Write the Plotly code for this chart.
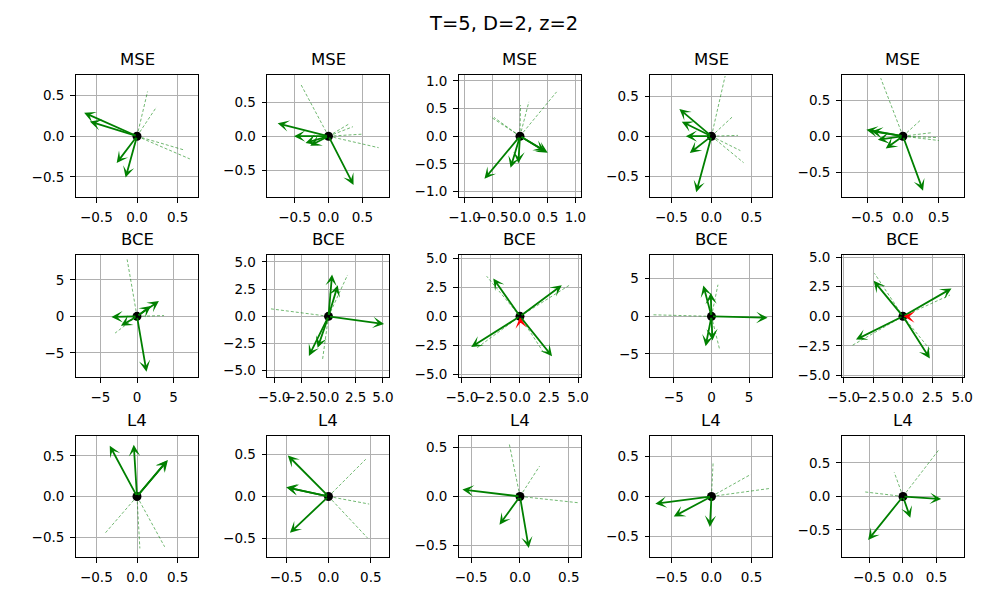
import plotly.graph_objects as go

# ---------------- data ----------------
suptitle = "T=5, D=2, z=2"
row_titles = ["MSE", "BCE", "L4"]

# arrow tips (x, y), all arrows start at the origin
mse_arrows = [
    [(-0.65, 0.29), (-0.58, 0.18), (-0.25, -0.33), (-0.14, -0.51)],
    [(-0.75, 0.19), (-0.51, 0.0), (-0.34, -0.10), (-0.27, -0.14), (0.37, -0.72)],
    [(-0.64, -0.77), (-0.17, -0.57), (-0.03, -0.49), (0.45, -0.27), (0.50, -0.30)],
    [(-0.40, 0.34), (-0.37, 0.18), (-0.32, 0.0), (-0.27, -0.21), (-0.19, -0.70)],
    [(-0.51, 0.09), (-0.44, 0.07), (-0.35, -0.05), (-0.24, -0.17), (0.28, -0.76)],
]
mse_dashed = [
    [(0.13, 0.55), (0.24, 0.36), (0.58, -0.17), (0.65, -0.28)],
    [(-0.41, 0.77), (0.30, 0.18), (0.36, 0.14), (0.50, 0.03), (0.74, -0.17)],
    [(-0.53, 0.35), (-0.47, 0.34), (0.01, 0.56), (0.16, 0.62), (0.66, 0.80)],
    [(0.17, 0.75), (0.27, 0.25), (0.33, 0.01), (0.36, -0.18), (0.40, -0.33)],
    [(-0.31, 0.81), (0.24, 0.22), (0.41, 0.05), (0.49, -0.02), (0.50, -0.06)],
]
bce_arrows = [
    [(-3.5, -0.1), (-2.2, -1.3), (1.9, 1.4), (3.0, 2.1), (1.3, -7.6)],
    [(5.1, -0.7), (0.33, 3.85), (0.85, 2.85), (-1.8, -3.65), (-1.0, -2.9)],
    [(-2.3, 3.27), (3.6, 2.68), (-4.2, -2.65), (2.76, -3.44)],
    [(7.45, -0.2), (-1.08, 4.1), (-0.1, 3.15), (-0.78, -3.97), (0.13, -3.2)],
    [(-2.47, 3.0), (4.1, 2.36), (-3.97, -1.97), (2.27, -3.56)],
]
bce_dashed = [
    [(-1.35, 7.8), (3.7, 0.1), (-3.0, -2.3)],
    [(-5.4, 0.7), (1.75, 3.8), (-0.55, -4.0)],
    [(-2.87, 3.46), (4.25, 2.68), (-3.72, -2.73), (2.05, -3.15)],
    [(-7.7, 0.2), (0.86, 4.2), (1.08, -4.4)],
    [(-2.41, 3.64), (3.97, 1.8), (-4.25, -2.44), (2.38, -2.93)],
]
# small red arrows: (tail, tip) in data units
bce_red = [None, None, ((0.05, -0.55), (0.0, -0.05)), None, ((0.55, -0.03), (0.05, 0.0))]
l4_arrows = [
    [(-0.335, 0.625), (-0.04, 0.635), (0.38, 0.45), (0.37, 0.44)],
    [(-0.48, 0.485), (-0.5, 0.11), (-0.49, 0.105), (-0.455, -0.43)],
    [(-0.59, 0.07), (-0.21, -0.29), (0.09, -0.53)],
    [(-0.7, -0.09), (-0.47, -0.25), (-0.02, -0.38)],
    [(0.57, -0.04), (0.11, -0.32), (-0.52, -0.65)],
]
l4_dashed = [
    [(-0.39, -0.45), (0.035, -0.64), (0.34, -0.62)],
    [(0.44, 0.44), (0.48, -0.09), (0.46, -0.49)],
    [(-0.11, 0.54), (0.2, 0.31), (0.6, -0.065)],
    [(0.02, 0.42), (0.49, 0.275), (0.73, 0.1)],
    [(0.53, 0.69), (-0.13, 0.36), (-0.59, 0.07)],
]
# symmetric axis limits per panel
mse_limits = [0.75, 0.9, 1.1, 0.76, 0.85]
bce_limits = [8.35, 5.6, 5.25, 8.1, 5.15]
l4_limits = [0.75, 0.72, 0.625, 0.76, 0.91]
# tick values per panel
mse_ticks = [[-0.5, 0, 0.5], [-0.5, 0, 0.5], [-1.0, -0.5, 0, 0.5, 1.0], [-0.5, 0, 0.5], [-0.5, 0, 0.5]]
bce_ticks = [[-5, 0, 5], [-5, -2.5, 0, 2.5, 5], [-5, -2.5, 0, 2.5, 5], [-5, 0, 5], [-5, -2.5, 0, 2.5, 5]]
l4_ticks = [[-0.5, 0, 0.5]] * 5
bce_tick_decimals = [0, 1, 1, 0, 1]

rows = [
    (mse_arrows, mse_dashed, mse_limits, mse_ticks, [1] * 5, [None] * 5),
    (bce_arrows, bce_dashed, bce_limits, bce_ticks, bce_tick_decimals, bce_red),
    (l4_arrows, l4_dashed, l4_limits, l4_ticks, [1] * 5, [None] * 5),
]

# ---------------- layout geometry (pixels) ----------------
W, H = 1000, 600
BOX_W, BOX_H = 125.0, 124.3
COL_X0 = [62.5 + 196.2 * i for i in range(5)]
ROW_Y0 = [70.7, 254.5, 438.3]

GREEN = "#008000"
FONT = "DejaVu Sans"

fig = go.Figure()
annotations = []
layout = {}


def fmt(v, dec):
    s = f"{v:.{dec}f}"
    return s.replace("-", "\u2212")


k = 0
for r, (arrows, dashed, limits, ticks, decs, reds) in enumerate(rows):
    for c in range(5):
        k += 1
        xa = "x" if k == 1 else f"x{k}"
        ya = "y" if k == 1 else f"y{k}"
        xkey = "xaxis" if k == 1 else f"xaxis{k}"
        ykey = "yaxis" if k == 1 else f"yaxis{k}"
        L = limits[c]
        tv = ticks[c]
        tt = [fmt(v, decs[c]) for v in tv]
        x0 = COL_X0[c]
        y0 = ROW_Y0[r]
        common = dict(
            range=[-L, L], tickvals=tv, ticktext=tt, tickangle=0,
            showgrid=True, gridcolor="#b0b0b0", gridwidth=1,
            zeroline=False, showline=True, linecolor="black", linewidth=1,
            mirror=True, ticks="outside", ticklen=4.9, tickwidth=1,
            ticklabelstandoff=3,
            tickcolor="black", tickfont=dict(family=FONT, size=13.5, color="black"),
            fixedrange=True,
        )
        layout[xkey] = dict(domain=[x0 / W, (x0 + BOX_W) / W], anchor=ya, **common)
        layout[ykey] = dict(domain=[1 - (y0 + BOX_H) / H, 1 - y0 / H], anchor=xa, **common)

        # dashed reference lines
        dx, dy = [], []
        for (px, py) in dashed[c]:
            dx += [0, px, None]
            dy += [0, py, None]
        fig.add_trace(go.Scatter(
            x=dx, y=dy, xaxis=xa, yaxis=ya, mode="lines",
            line=dict(color="rgba(0,128,0,0.7)", width=0.8, dash="3px,2px"),
            hoverinfo="skip", showlegend=False))

        # origin dot
        fig.add_trace(go.Scatter(
            x=[0], y=[0], xaxis=xa, yaxis=ya, mode="markers",
            marker=dict(color="black", size=9), hoverinfo="skip", showlegend=False))

        # solid arrows
        for (px, py) in arrows[c]:
            annotations.append(dict(
                x=px, y=py, ax=0, ay=0, xref=xa, yref=ya, axref=xa, ayref=ya,
                text="", showarrow=True, arrowhead=3, arrowsize=1.05,
                arrowwidth=1.8, arrowcolor=GREEN, standoff=0, startstandoff=0))

        # red arrow (if any)
        if reds[c] is not None:
            (tx, ty), (hx, hy) = reds[c]
            annotations.append(dict(
                x=hx, y=hy, ax=tx, ay=ty, xref=xa, yref=ya, axref=xa, ayref=ya,
                text="", showarrow=True, arrowhead=3, arrowsize=1.05,
                arrowwidth=1.8, arrowcolor="red", standoff=0, startstandoff=0))

        # subplot title
        annotations.append(dict(
            text=row_titles[r], xref="paper", yref="paper",
            x=(x0 + BOX_W / 2) / W, y=1 - (y0 - 4) / H,
            xanchor="center", yanchor="bottom", showarrow=False,
            font=dict(family=FONT, size=16.5, color="black")))

annotations.append(dict(
    text=suptitle, xref="paper", yref="paper", x=0.5, y=1 - 4 / H,
    xanchor="center", yanchor="top", showarrow=False,
    font=dict(family=FONT, size=19.5, color="black")))

fig.update_layout(
    width=W, height=H, margin=dict(l=0, r=0, t=0, b=0),
    paper_bgcolor="white", plot_bgcolor="white",
    annotations=annotations, showlegend=False, **layout)

fig.write_html(
    "out.html",
    config={"displayModeBar": False, "staticPlot": True},
    post_script="document.body.style.margin='0';document.body.style.overflow='hidden';",
)
